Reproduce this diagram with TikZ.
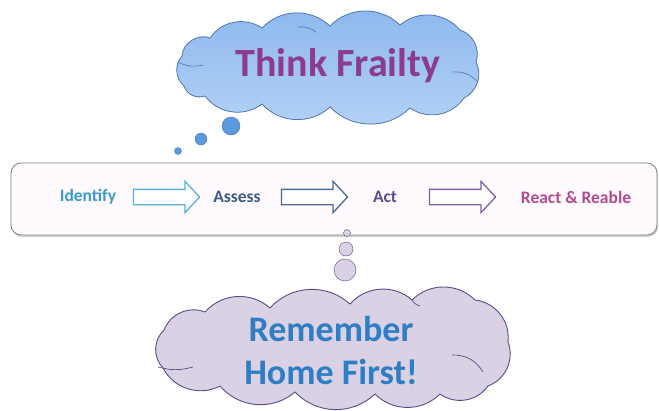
\documentclass[tikz,border=0pt]{standalone}
\usepackage{fontspec}
\setmainfont{Carlito}
\usepackage{tikz}
\usetikzlibrary{positioning, shapes.arrows, shadows}

\definecolor{skyline}{HTML}{5AB2D9}
\definecolor{idtext}{HTML}{3A9AD0}
\definecolor{astext}{HTML}{3E5B82}
\definecolor{asline}{HTML}{4C6A92}
\definecolor{acttext}{HTML}{5E4C8A}
\definecolor{actline}{HTML}{82609E}
\definecolor{retext}{HTML}{B24A8E}
\definecolor{frail}{HTML}{8C3B8E}
\definecolor{bluetop}{HTML}{8DB8EE}
\definecolor{bluebot}{HTML}{B4D2F6}
\definecolor{blueedge}{HTML}{4F75AE}
\definecolor{dotblue}{HTML}{5B9BDD}
\definecolor{lav}{HTML}{DAD2E4}
\definecolor{lavedge}{HTML}{574C8A}
\definecolor{homeblue}{HTML}{2F7DC5}

\tikzset{
  stage/.style={font=\fontsize{17.5}{20}\selectfont\bfseries, inner sep=0pt},
  blockarrow/.style={draw=#1, line width=1.3pt, fill=white, single arrow, single arrow head extend=8pt,
    single arrow tip angle=94, minimum height=66pt, inner xsep=0pt, inner ysep=7pt},
  bubble/.style={draw=blueedge, fill=dotblue, circle, inner sep=0pt, minimum size=#1},
  pebble/.style={draw=lavedge, fill=lav, circle, inner sep=0pt, minimum size=#1},
  puff/.style={bend left=#1},
  puff/.default=45
}

\begin{document}
\begin{tikzpicture}[x=1pt,y=-1pt,node distance=74pt]
\useasboundingbox (0,0) rectangle (659,410);
\node [draw=black!50, line width=0.8pt, fill=magenta!2, rounded corners=10pt, minimum width=646pt, minimum height=72pt,
  drop shadow={opacity=0.35, shadow xshift=1pt, shadow yshift=-2pt}] (band) at (334,199) {};
\node [stage, text=idtext] (S1) at (88,197) {Identify};
\node [blockarrow=skyline, right of=S1, xshift=1pt] (A1) {};
\node [stage, text=astext, right of=A1] (S2) {Assess};
\node [blockarrow=asline, right of=S2] (A2) {};
\node [stage, text=acttext, right of=A2] (S3) {Act};
\node [blockarrow=actline, right of=S3] (A3) {};
\node [stage, text=retext, right of=A3, xshift=43pt] (S4) {React \& Reable};

\draw [blueedge, line width=0.8pt, top color=bluetop, bottom color=bluebot]
  (184,86) to[puff] (182,56) to[puff=55] (210,38) to[puff] (262,28) to[puff] (330,26) to[puff] (400,25)
  to[puff] (460,30) to[puff] (476,62) to[puff] (464,98) to[puff] (410,108) to[puff] (330,107)
  to[puff] (262,104) to[puff] (205,96) to[puff] (184,86) -- cycle;
\draw [blueedge, line width=0.6pt] (178,62) to[bend right=20] (203,65) (298,27) to[bend left=20] (316,32)
  (452,72) to[bend left=25] (478,82);
\node [text=frail, font=\fontsize{40}{48}\selectfont\bfseries] (T) at (338,66) {Think Frailty};
\node [bubble=18pt] (B1) at (231,126) {};
\node [bubble=12pt] (B2) at (201,139) {};
\node [bubble=7pt] (B3) at (178,151) {};

\node [pebble=7pt] (P1) at (347,233) {};
\node [pebble=14pt] (P2) at (346,249) {};
\node [pebble=22pt] (P3) at (345,270) {};
\draw [lavedge, line width=0.9pt, fill=lav]
  (163,368) to[puff] (164,330) to[puff] (205,312) to[puff] (270,308) to[puff] (350,304) to[puff] (412,300)
  to[puff] (475,300) to[puff] (508,342) to[puff] (488,386) to[puff] (440,394) to[puff] (375,394)
  to[puff] (295,392) to[puff] (220,386) to[puff] (163,368) -- cycle;
\draw [lavedge, line width=0.7pt] (158,367) to[bend right=15] (193,367) (412,300) to[bend right=20] (420,306)
  (452,355) to[bend left=30] (483,372);
\node [text=homeblue, align=center, font=\fontsize{36}{43}\selectfont\bfseries] (H) at (331,350) {Remember\\Home First!};
\end{tikzpicture}
\end{document}
